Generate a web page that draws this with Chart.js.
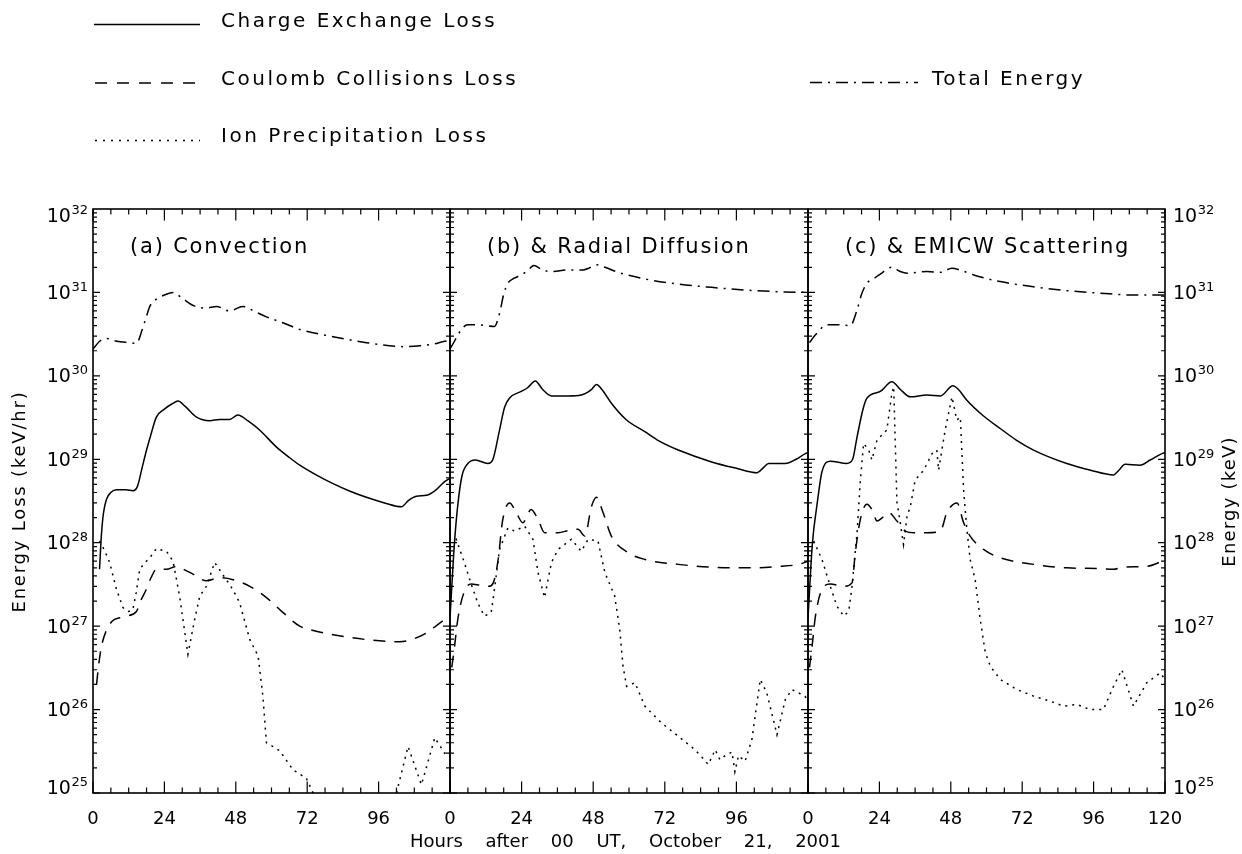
<!DOCTYPE html>
<html>
<head>
<meta charset="utf-8">
<title>Ring current energy loss, October 21, 2001</title>
<script src="https://cdn.jsdelivr.net/npm/chart.js@4.4.1/dist/chart.umd.min.js"></script>
<style>
  html, body { margin: 0; padding: 0; background: #fff; }
  #fig { position: relative; width: 1242px; height: 854px; overflow: hidden; font-family: "DejaVu Sans", sans-serif; }
  #fig canvas, #fig svg { position: absolute; left: 0; top: 0; }
</style>
</head>
<body>
<div id="fig">
  <canvas id="panelA" width="1242" height="854"></canvas>
  <canvas id="panelB" width="1242" height="854"></canvas>
  <canvas id="panelC" width="1242" height="854"></canvas>
  <svg width="1242" height="854" xmlns="http://www.w3.org/2000/svg" font-family="DejaVu Sans, sans-serif">
    <g stroke="#000" stroke-width="1.5" fill="none">
      <line x1="94" y1="24.5" x2="200" y2="24.5"/>
      <line x1="95" y1="83" x2="200" y2="83" stroke-dasharray="12 10"/>
      <line x1="95" y1="140.5" x2="200" y2="140.5" stroke-dasharray="2 6"/>
      <line x1="810" y1="82.5" x2="918" y2="82.5" stroke-dasharray="12 6 2 6"/>
    </g>
    <g font-size="20" letter-spacing="2.5" fill="#000">
      <text x="221" y="27">Charge Exchange Loss</text>
      <text x="221" y="84.5">Coulomb Collisions Loss</text>
      <text x="221" y="142">Ion Precipitation Loss</text>
      <text x="932" y="84.5">Total Energy</text>
    </g>
    <text transform="translate(25,501.5) rotate(-90)" text-anchor="middle" font-size="18" letter-spacing="1.8" fill="#000">Energy Loss (keV/hr)</text>
    <text transform="translate(1235,501.5) rotate(-90)" text-anchor="middle" font-size="18" letter-spacing="1.2" fill="#000">Energy (keV)</text>
    <text x="625.5" y="847" text-anchor="middle" font-size="18" word-spacing="17" xml:space="preserve" fill="#000">Hours after 00 UT, October 21, 2001</text>
  </svg>
</div>
<script>
// ---- tick labels ----
const hourTicks = [0, 24, 48, 72, 96, 120];
const decadeExponents = [25, 26, 27, 28, 29, 30, 31, 32];

// ---- (a) Convection ----
const hoursTotalA = [0, 2.25, 4.5, 8, 12, 14.6, 16.5, 18, 19.1, 21.3, 24, 26.9, 30, 34, 38.1, 41.5, 45.9, 50.4, 54, 58.3, 64, 69.5, 80.7, 91.9, 104.2, 110, 114.3, 118.2, 120];
const totalA = [2.1e30, 2.6e30, 2.8e30, 2.6e30, 2.5e30, 2.45e30, 3.55e30, 5.2e30, 6.8e30, 8.3e30, 9.3e30, 1.0e31, 8.5e30, 6.9e30, 6.5e30, 6.8e30, 6.0e30, 6.8e30, 6.0e30, 5.1e30, 4.3e30, 3.6e30, 2.95e30, 2.5e30, 2.24e30, 2.3e30, 2.4e30, 2.6e30, 2.65e30];

const hoursChargeA = [2.2, 2.8, 3.5, 4.5, 6, 8, 11, 13.5, 15, 16.5, 18, 19.5, 21.3, 24, 26.5, 28.6, 31, 34.8, 39.2, 42.6, 45.9, 48.7, 52, 56, 61.6, 66, 69.5, 75, 80.7, 86, 91.9, 98, 103.7, 106, 108.7, 112.1, 115, 118.2, 120];
const chargeA = [4.8e27, 1.2e28, 2.24e28, 3.3e28, 4.0e28, 4.3e28, 4.3e28, 4.2e28, 4.8e28, 7.9e28, 1.29e29, 2.0e29, 3.2e29, 4.0e29, 4.6e29, 5.0e29, 4.3e29, 3.2e29, 2.9e29, 3.0e29, 3.0e29, 3.4e29, 2.9e29, 2.24e29, 1.41e29, 1.05e29, 8.5e28, 6.5e28, 5.1e28, 4.2e28, 3.5e28, 3.0e28, 2.7e28, 3.2e28, 3.6e28, 3.7e28, 4.2e28, 5.4e28, 5.9e28];

const hoursCoulombA = [1.2, 1.8, 2.8, 4.5, 6.5, 9, 11.2, 14.6, 16, 17.9, 19.5, 21.3, 24.7, 28, 31, 33.6, 38.1, 42.6, 47.1, 52.7, 58.3, 63.9, 69.5, 75, 80.7, 91.9, 103.1, 108, 112.1, 116, 118.2, 120];
const coulombA = [2.0e26, 3.2e26, 5.6e26, 8.9e26, 1.15e27, 1.26e27, 1.32e27, 1.5e27, 2.0e27, 2.75e27, 3.8e27, 4.8e27, 4.8e27, 5.2e27, 4.7e27, 4.2e27, 3.5e27, 3.8e27, 3.6e27, 3.0e27, 2.2e27, 1.45e27, 1.0e27, 8.7e26, 7.9e26, 6.9e26, 6.5e26, 7.1e26, 8.3e26, 1.05e27, 1.2e27, 1.35e27];

const hoursIonA = [2.25, 4, 5.6, 7.9, 10.1, 12, 13.4, 14.5, 15.7, 17.5, 19.1, 21.3, 24.7, 26.9, 29.1, 31.9, 34, 35.9, 38.1, 40.9, 42.8, 44.8, 47, 49.3, 52.7, 55.5, 57.1, 58.3, 60.5, 62.8, 67.2, 71.7, 74, 78, 86, 94, 100, 102, 105.9, 108, 110.4, 114.9, 118.2, 120];
const ionA = [1.05e28, 7.9e27, 5.8e27, 2.75e27, 1.66e27, 1.5e27, 1.58e27, 2.5e27, 4.8e27, 5.8e27, 6.6e27, 8.5e27, 7.9e27, 6.0e27, 2.3e27, 4.6e26, 1.12e27, 2.3e27, 3.0e27, 5.8e27, 4.6e27, 3.6e27, 2.75e27, 1.9e27, 6.9e26, 4.4e26, 1.45e26, 4.0e25, 3.6e25, 3.2e25, 1.9e25, 1.5e25, 1.0e25, 5.0e24, 3.2e24, 4.0e24, 6.3e24, 1.0e25, 3.6e25, 2.2e25, 1.26e25, 4.6e25, 3.0e25, 3.2e25];

// ---- (b) & Radial Diffusion ----
const hoursTotalB = [0, 1.5, 2.6, 5.9, 9.3, 12, 14.9, 16.6, 18, 19.4, 21.5, 23.9, 26, 28.1, 31, 34, 39.6, 44.6, 46.5, 49.1, 52, 56.4, 65.3, 76.5, 87.7, 98.9, 110, 120];
const totalB = [2.1e30, 2.6e30, 3.1e30, 4.1e30, 4.1e30, 4.0e30, 3.9e30, 5.6e30, 9.5e30, 1.29e31, 1.48e31, 1.62e31, 1.82e31, 2.1e31, 1.86e31, 1.78e31, 1.86e31, 1.86e31, 1.95e31, 2.14e31, 2.0e31, 1.74e31, 1.45e31, 1.26e31, 1.15e31, 1.07e31, 1.02e31, 1.0e31];

const hoursChargeB = [0, 1.5, 2.6, 4, 6, 8.5, 12.7, 14.3, 16.6, 18.3, 19.9, 23.9, 26, 28.6, 31, 34, 39.6, 44, 47.5, 49.1, 51, 54.1, 59, 65.3, 70, 76.5, 87.7, 96, 102.9, 105, 106.8, 112.4, 116, 119.1, 120];
const chargeB = [1.26e27, 1.0e28, 2.8e28, 6.3e28, 8.9e28, 9.8e28, 8.9e28, 9.8e28, 2.24e29, 4.2e29, 5.4e29, 6.5e29, 7.2e29, 8.7e29, 6.9e29, 5.75e29, 5.75e29, 5.9e29, 6.9e29, 7.9e29, 6.8e29, 4.7e29, 3.0e29, 2.14e29, 1.66e29, 1.29e29, 9.3e28, 7.8e28, 6.9e28, 7.9e28, 8.9e28, 8.9e28, 1.0e29, 1.17e29, 1.2e29];

const hoursCoulombB = [0.6, 1.5, 2.6, 4.8, 7.1, 10, 13, 14.5, 16, 17.7, 20, 22.2, 24.4, 27.2, 29.5, 31.7, 36.2, 40, 42.9, 45.2, 47.4, 49.1, 51.3, 54.1, 59.7, 65.3, 76.5, 87.7, 98.9, 103.4, 110.1, 116.9, 120];
const coulombB = [3.2e26, 5.6e26, 1.2e27, 2.6e27, 3.2e27, 3.1e27, 3.0e27, 3.3e27, 5.8e27, 1.9e28, 3.0e28, 2.3e28, 1.74e28, 2.5e28, 1.9e28, 1.32e28, 1.32e28, 1.41e28, 1.45e28, 1.2e28, 2.7e28, 3.5e28, 2.3e28, 1.2e28, 7.6e27, 6.3e27, 5.5e27, 5.1e27, 5.0e27, 5.0e27, 5.2e27, 5.5e27, 6.0e27];

const hoursIonB = [2, 4.8, 7.1, 9.3, 11.5, 13.8, 14.9, 16.6, 19.4, 21.6, 25, 27.8, 29.5, 31.7, 34, 36.2, 40.7, 44, 46.3, 49.6, 51.9, 55.2, 56.9, 58, 59.2, 62, 65.3, 70.9, 76.5, 82.1, 84, 86.6, 88.9, 90.5, 92.2, 94.5, 95.5, 96.7, 98.9, 101.2, 104, 106.2, 109.6, 112.4, 114.6, 119, 120];
const ionB = [1.12e28, 5.8e27, 3.2e27, 1.9e27, 1.32e27, 1.45e27, 2.75e27, 8.3e27, 1.5e28, 1.38e28, 1.58e28, 1.1e28, 4.4e27, 2.2e27, 5.8e27, 8.3e27, 1.1e28, 7.9e27, 1.1e28, 1.05e28, 4.4e27, 2.3e27, 9.1e26, 3.3e26, 1.9e26, 2.1e26, 1.1e26, 6.9e25, 4.8e25, 3.3e25, 2.8e25, 2.2e25, 3.3e25, 2.5e25, 2.8e25, 3.1e25, 1.8e25, 2.8e25, 2.4e25, 4.4e25, 2.3e26, 1.58e26, 5.0e25, 1.32e26, 1.74e26, 1.45e26, 1.26e26];

// ---- (c) & EMICW Scattering ----
const hoursTotalC = [0.5, 2.5, 6.4, 10, 14.2, 16.5, 18, 19.8, 22, 24.3, 28.2, 31, 33.3, 40, 44.5, 48.4, 51, 55.7, 64.6, 75.8, 87, 98.2, 109.4, 120];
const totalC = [2.5e30, 3.1e30, 4.1e30, 4.1e30, 4.0e30, 6.2e30, 9.5e30, 1.29e31, 1.45e31, 1.66e31, 2.0e31, 1.78e31, 1.7e31, 1.78e31, 1.74e31, 1.95e31, 1.86e31, 1.62e31, 1.35e31, 1.17e31, 1.05e31, 9.8e30, 9.3e30, 9.3e30];

const hoursChargeC = [0, 1.5, 3, 4.7, 7.5, 13, 15, 16.5, 18.5, 19.8, 24.3, 28.2, 31, 34.4, 40, 44.5, 48.7, 50.5, 53.4, 59, 64.6, 70, 75.8, 87, 95, 102.7, 104.5, 106.6, 111.6, 115, 119, 120];
const chargeC = [1.26e27, 1.0e28, 2.8e28, 7.1e28, 9.5e28, 8.9e28, 1.0e29, 1.86e29, 4.0e29, 5.4e29, 6.5e29, 8.5e29, 6.9e29, 5.6e29, 5.9e29, 5.75e29, 7.6e29, 6.9e29, 5.1e29, 3.3e29, 2.34e29, 1.7e29, 1.29e29, 8.9e28, 7.4e28, 6.5e28, 7.4e28, 8.7e28, 8.5e28, 9.8e28, 1.17e29, 1.2e29];

const hoursCoulombC = [0.5, 1.5, 2.5, 4.7, 7.5, 12, 14.8, 15.9, 17.6, 19.8, 21.5, 23.2, 25, 27.1, 29.9, 32.7, 35.5, 40, 44.5, 46.7, 50.1, 52.3, 54.5, 59, 64.6, 75.8, 87, 98.2, 102.7, 106, 113.9, 120];
const coulombC = [3.2e26, 6.3e26, 1.32e27, 2.75e27, 3.2e27, 3.0e27, 3.3e27, 7.6e27, 1.9e28, 2.9e28, 2.5e28, 1.82e28, 2.0e28, 2.3e28, 1.82e28, 1.38e28, 1.32e28, 1.32e28, 1.38e28, 2.3e28, 3.0e28, 1.74e28, 1.2e28, 8.3e27, 6.6e27, 5.5e27, 5.0e27, 4.9e27, 4.8e27, 5.1e27, 5.2e27, 6.2e27];

const hoursIonC = [1.9, 4.7, 7.5, 9.7, 12, 13.7, 14.8, 16.5, 17.6, 18.7, 20.4, 21.5, 23.2, 26.5, 28.2, 28.8, 29.9, 30.5, 32.1, 33.3, 34.4, 36, 38.9, 41.7, 43.3, 43.9, 46.1, 48.4, 50, 51.2, 52.3, 53.3, 54.5, 56.2, 57.9, 59.6, 61.3, 64.6, 70.2, 75.8, 81.4, 85.9, 90.4, 94.8, 99.3, 102.7, 105.5, 109.4, 113.9, 118.4, 120];
const ionC = [1.05e28, 6.3e27, 3.0e27, 1.74e27, 1.32e27, 1.5e27, 3.0e27, 1.32e28, 5.6e28, 1.55e29, 1.29e29, 9.8e28, 1.7e29, 2.24e29, 6.2e29, 7.4e29, 3.0e28, 2.3e28, 9.5e27, 2.1e28, 2.7e28, 5.6e28, 7.4e28, 1.17e29, 1.29e29, 7.4e28, 2.24e29, 5.6e29, 2.95e29, 3.2e29, 4.3e28, 1.58e28, 6.3e27, 3.6e27, 1.2e27, 4.8e26, 3.3e26, 2.3e26, 1.74e26, 1.45e26, 1.26e26, 1.1e26, 1.15e26, 1.0e26, 1.0e26, 1.9e26, 3.0e26, 1.1e26, 2.1e26, 2.75e26, 2.3e26];

// ---- line styles for the four quantities ----
const styles = {
  charge:  { label: 'Charge Exchange Loss',    borderDash: [],             cubicInterpolationMode: 'monotone' },
  coulomb: { label: 'Coulomb Collisions Loss', borderDash: [12, 9],        cubicInterpolationMode: 'monotone' },
  ion:     { label: 'Ion Precipitation Loss',  borderDash: [2, 5],         tension: 0 },
  total:   { label: 'Total Energy',            borderDash: [12, 6, 2, 6],  cubicInterpolationMode: 'monotone' }
};

function series(kind, hours, values) {
  return Object.assign({
    data: hours.map((h, i) => ({ x: h, y: values[i] })),
    borderColor: '#000',
    borderWidth: 1.5,
    pointRadius: 0,
    fill: false
  }, styles[kind]);
}

// Box, inward ticks and labels for one panel, placed with the chart's own scales.
const framePlugin = {
  id: 'frame',
  afterDatasetsDraw(chart, args, opts) {
    const { ctx, chartArea: a } = chart;
    const xs = chart.scales.x, ys = chart.scales.y;
    ctx.save();
    ctx.strokeStyle = '#000';
    ctx.fillStyle = '#000';

    ctx.lineWidth = 1.2;
    ctx.beginPath();
    for (let h = 0; h <= 120; h += 6) {
      const px = xs.getPixelForValue(h);
      const len = h % 24 === 0 ? 11.5 : 5.5;
      ctx.moveTo(px, a.bottom); ctx.lineTo(px, a.bottom - len);
      ctx.moveTo(px, a.top);    ctx.lineTo(px, a.top + len);
    }
    for (let e = 25; e <= 31; e++) {
      for (let m = 1; m <= 9; m++) {
        const py = ys.getPixelForValue(m * Math.pow(10, e));
        const len = m === 1 ? 7 : 4;
        ctx.moveTo(a.left, py);  ctx.lineTo(a.left + len, py);
        ctx.moveTo(a.right, py); ctx.lineTo(a.right - len, py);
      }
    }
    ctx.stroke();

    ctx.lineWidth = 1.6;
    ctx.strokeRect(a.left, a.top, a.right - a.left, a.bottom - a.top);

    // hour labels
    ctx.font = '18px "DejaVu Sans"';
    ctx.textAlign = 'center';
    ctx.textBaseline = 'alphabetic';
    opts.xLabels.forEach(h => {
      ctx.fillText(String(h), xs.getPixelForValue(h), 824);
    });

    // decade labels 10^n
    if (opts.leftLabels || opts.rightLabels) {
      decadeExponents.forEach(e => {
        const py = ys.getPixelForValue(Math.pow(10, e));
        const shift = e === 32 ? 6 : (e === 25 ? -5.5 : 0);
        const base = py + 6.6 + shift;
        if (opts.leftLabels) {
          ctx.textAlign = 'right';
          ctx.font = '13px "DejaVu Sans"';
          const w = ctx.measureText(String(e)).width;
          ctx.fillText(String(e), a.left - 5, base - 8);
          ctx.font = '19px "DejaVu Sans"';
          ctx.fillText('10', a.left - 5 - w - 0.5, base);
        }
        if (opts.rightLabels) {
          ctx.textAlign = 'left';
          ctx.font = '19px "DejaVu Sans"';
          const w = ctx.measureText('10').width;
          ctx.fillText('10', a.right + 8, base);
          ctx.font = '13px "DejaVu Sans"';
          ctx.fillText(String(e), a.right + 8 + w + 0.5, base - 8);
        }
      });
    }

    // panel title
    ctx.textAlign = 'left';
    ctx.font = '21px "DejaVu Sans"';
    if ('letterSpacing' in ctx) ctx.letterSpacing = '1.8px';
    ctx.fillText(opts.title, a.left + 37, 253);
    ctx.restore();
  }
};

function makePanel(id, panel, datasets) {
  return new Chart(document.getElementById(id), {
    type: 'line',
    data: { datasets },
    options: {
      responsive: false,
      animation: false,
      devicePixelRatio: 1,
      layout: { padding: { left: panel.left, right: 1242 - panel.right, top: 209, bottom: 61 } },
      scales: {
        x: { type: 'linear', min: 0, max: 120, display: false },
        y: { type: 'logarithmic', min: 1e25, max: 1e32, display: false }
      },
      plugins: {
        legend: { display: false },
        tooltip: { enabled: false },
        frame: panel
      }
    },
    plugins: [framePlugin]
  });
}

makePanel('panelA',
  { left: 93, right: 450, title: '(a) Convection', xLabels: hourTicks.slice(0, 5), leftLabels: true, rightLabels: false },
  [series('total', hoursTotalA, totalA), series('charge', hoursChargeA, chargeA),
   series('coulomb', hoursCoulombA, coulombA), series('ion', hoursIonA, ionA)]);

makePanel('panelB',
  { left: 450, right: 808, title: '(b) & Radial Diffusion', xLabels: hourTicks.slice(0, 5), leftLabels: false, rightLabels: false },
  [series('total', hoursTotalB, totalB), series('charge', hoursChargeB, chargeB),
   series('coulomb', hoursCoulombB, coulombB), series('ion', hoursIonB, ionB)]);

makePanel('panelC',
  { left: 808, right: 1165, title: '(c) & EMICW Scattering', xLabels: hourTicks, leftLabels: false, rightLabels: true },
  [series('total', hoursTotalC, totalC), series('charge', hoursChargeC, chargeC),
   series('coulomb', hoursCoulombC, coulombC), series('ion', hoursIonC, ionC)]);
</script>
</body>
</html>
